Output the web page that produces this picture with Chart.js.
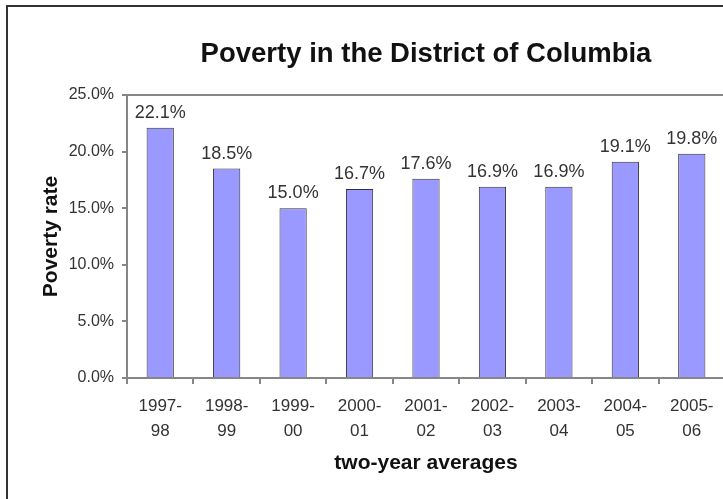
<!DOCTYPE html>
<html>
<head>
    <title>Poverty in the District of Columbia</title>
    <style>
        body {
            margin: 0;
            background-color: #fff;
            overflow: hidden;
            width: 723px;
            height: 499px;
        }

        #frame {
            position: absolute;
            left: 6px;
            top: 5px;
            width: 840px;
            height: 540px;
            border: 2px solid #333;
        }

        #chart {
            position: absolute;
            left: 0;
            top: 0;
        }
    </style>
</head>
<body>
    <div id="frame">
        <canvas id="chart" width="828" height="520"></canvas>
    </div>

    <script src="https://cdn.jsdelivr.net/npm/chart.js"></script>
    <script>
        const periods = [
            ['1997-', '98'], ['1998-', '99'], ['1999-', '00'],
            ['2000-', '01'], ['2001-', '02'], ['2002-', '03'],
            ['2003-', '04'], ['2004-', '05'], ['2005-', '06']
        ];
        const povertyRate = [22.1, 18.5, 15.0, 16.7, 17.6, 16.9, 16.9, 19.1, 19.8];
        const yTicks = [0, 5, 10, 15, 20, 25];

        const fontFamily = 'Arial, "Liberation Sans", sans-serif';
        const axisGray = '#868686';
        const textColor = '#333';

        // value labels above each bar
        const barLabels = {
            id: 'barLabels',
            afterDatasetsDraw(chart) {
                const ctx = chart.ctx;
                const meta = chart.getDatasetMeta(0);
                ctx.save();
                ctx.font = '18px ' + fontFamily;
                ctx.fillStyle = textColor;
                ctx.textAlign = 'center';
                ctx.textBaseline = 'alphabetic';
                meta.data.forEach((bar, i) => {
                    ctx.fillText(povertyRate[i].toFixed(1) + '%', bar.x, bar.y - 10);
                });
                ctx.restore();
            }
        };

        // gray frame line along the top of the plot area
        const plotTop = {
            id: 'plotTop',
            beforeDatasetsDraw(chart) {
                const {ctx, chartArea} = chart;
                ctx.save();
                ctx.strokeStyle = axisGray;
                ctx.lineWidth = 2;
                ctx.beginPath();
                ctx.moveTo(chartArea.left, chartArea.top);
                ctx.lineTo(chartArea.right + 20, chartArea.top);
                ctx.stroke();
                ctx.restore();
            }
        };

        const ctx = document.getElementById('chart').getContext('2d');
        new Chart(ctx, {
            type: 'bar',
            data: {
                labels: periods,
                datasets: [{
                    label: 'Poverty rate',
                    data: povertyRate,
                    backgroundColor: '#9999FF',
                    borderColor: '#333',
                    borderWidth: 1,
                    barPercentage: 0.41,
                    categoryPercentage: 1
                }]
            },
            options: {
                responsive: false,
                animation: false,
                layout: {
                    padding: { left: 0, right: 111, top: 0, bottom: 39 }
                },
                plugins: {
                    legend: { display: false },
                    tooltip: { enabled: false },
                    title: {
                        display: true,
                        fullSize: false,
                        text: 'Poverty in the District of Columbia',
                        color: '#111',
                        font: { family: fontFamily, size: 27.5, weight: 'bold', lineHeight: 1.2 },
                        padding: { top: 31, bottom: 24 }
                    }
                },
                scales: {
                    x: {
                        grid: {
                            offset: true,
                            drawOnChartArea: false,
                            drawTicks: true,
                            tickLength: 6,
                            color: axisGray,
                            lineWidth: 2
                        },
                        border: { color: axisGray, width: 2 },
                        ticks: {
                            color: textColor,
                            padding: 10,
                            maxRotation: 0,
                            font: { family: fontFamily, size: 17, lineHeight: 1.45 }
                        },
                        title: {
                            display: true,
                            text: 'two-year averages',
                            color: '#111',
                            font: { family: fontFamily, size: 21, weight: 'bold', lineHeight: 1.2 },
                            padding: { top: 0, bottom: 12 }
                        },
                        afterFit(scale) {
                            scale.height = 110;
                        }
                    },
                    y: {
                        min: 0,
                        max: 25,
                        grid: {
                            drawOnChartArea: false,
                            drawTicks: true,
                            tickLength: 5,
                            color: axisGray,
                            lineWidth: 2
                        },
                        border: { color: axisGray, width: 2 },
                        afterBuildTicks(scale) {
                            scale.ticks = yTicks.map(v => ({ value: v }));
                        },
                        ticks: {
                            color: textColor,
                            padding: 8,
                            font: { family: fontFamily, size: 16 },
                            callback: v => v.toFixed(1) + '%'
                        },
                        title: {
                            display: true,
                            text: 'Poverty rate',
                            color: '#111',
                            font: { family: fontFamily, size: 21, weight: 'bold', lineHeight: 1.2 },
                            padding: { top: 31, bottom: 0 }
                        },
                        afterFit(scale) {
                            scale.width = 119;
                        }
                    }
                }
            },
            plugins: [barLabels, plotTop]
        });
    </script>
</body>
</html>
